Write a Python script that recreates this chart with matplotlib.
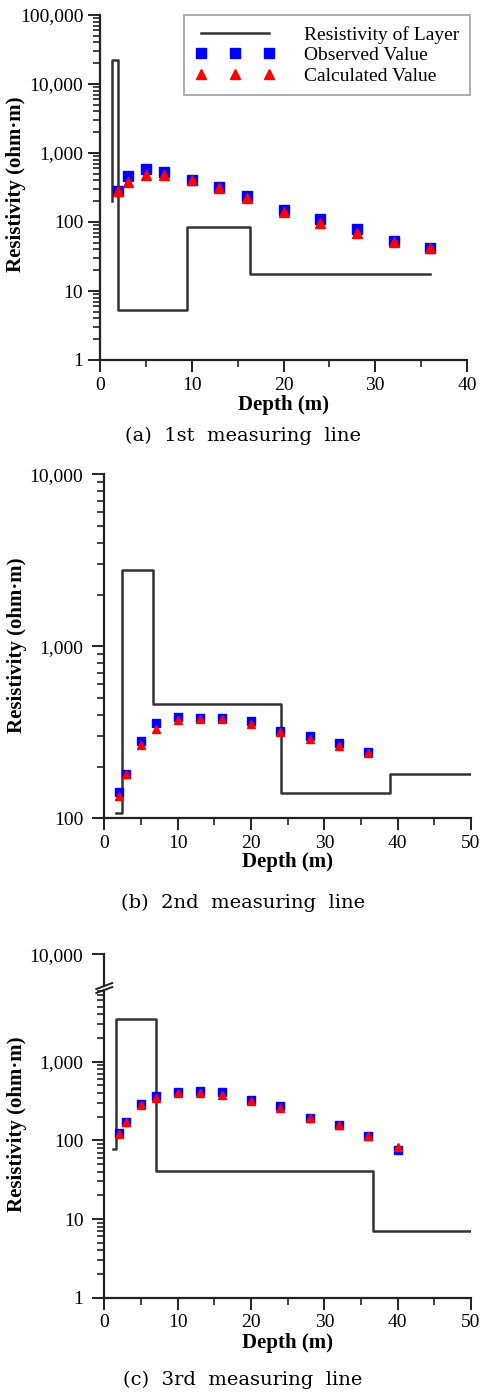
import matplotlib
matplotlib.use("Agg")
import matplotlib.pyplot as plt
import numpy as np
from matplotlib.ticker import FuncFormatter, LogLocator, MultipleLocator, NullLocator, FixedLocator

# ---------------- data ----------------
depth_obs1 = [2, 3, 5, 7, 10, 13, 16, 20, 24, 28, 32, 36]
obs1 = [282, 469, 588, 537, 407, 324, 238, 149, 109, 79, 53, 42]
calc1 = [282, 383, 480, 480, 400, 307, 220, 141, 98, 70, 52, 42]
layer_depth1 = [1.27, 1.27, 2.0, 9.45, 16.4, 36.0]
layer_rho1 = [200, 22000, 5.3, 85, 17.5, 17.5]

depth_obs2 = [2, 3, 5, 7, 10, 13, 16, 20, 24, 28, 32, 36]
obs2 = [143, 180, 281, 356, 386, 381, 383, 369, 322, 302, 275, 242]
calc2 = [135, 180, 267, 329, 373, 376, 378, 352, 317, 289, 263, 240]
layer_depth2 = [1.6, 2.37, 6.7, 24.05, 38.9, 50]
layer_rho2 = [108, 2760, 460, 140, 181, 181]

depth_obs3 = [2, 3, 5, 7, 10, 13, 16, 20, 24, 28, 32, 36, 40]
obs3 = [125, 172, 288, 368, 417, 425, 417, 327, 270, 195, 155, 113, 75]
calc3 = [119, 172, 280, 344, 400, 405, 378, 318, 258, 190, 155, 113, 83]
layer_depth3 = [1.23, 1.6, 7.05, 36.6, 50]
layer_rho3 = [78, 3440, 41, 7, 7]

captions = ["(a)  1st  measuring  line", "(b)  2nd  measuring  line", "(c)  3rd  measuring  line"]
legend_labels = ["Resistivity of Layer", "Observed Value", "Calculated Value"]

# ---------------- style ----------------
SERIF = ["Liberation Serif", "DejaVu Serif"]
plt.rcParams["font.family"] = SERIF
W, H = 486, 1392
fig = plt.figure(figsize=(W / 100, H / 100), dpi=100)
SPINE = "#222222"
LINE = "#333333"
TICKFS = 14
LABFS = 15


def fx(px):
    return px / W


def fy(py):
    return 1 - py / H


def comma(v, pos):
    return "{:,.0f}".format(v)


def style_axes(ax, xmax, ypad):
    for s in ["top", "right"]:
        ax.spines[s].set_visible(False)
    for s in ["left", "bottom"]:
        ax.spines[s].set_linewidth(1.6)
        ax.spines[s].set_color(SPINE)
    ax.set_yscale("log")
    ax.set_xlim(0, xmax)
    ax.xaxis.set_major_locator(MultipleLocator(10))
    ax.xaxis.set_minor_locator(MultipleLocator(5))
    ax.yaxis.set_major_formatter(FuncFormatter(comma))
    ax.yaxis.set_minor_locator(LogLocator(base=10, subs=np.arange(2, 10), numticks=20))
    ax.tick_params(which="major", direction="out", length=8.5, width=1.4, color=SPINE,
                   labelsize=TICKFS, pad=3.5)
    ax.tick_params(axis="y", which="major", pad=ypad)
    ax.tick_params(which="minor", direction="out", length=5, width=1.2, color=SPINE)
    ax.set_xlabel("Depth (m)", fontsize=LABFS, fontweight="bold")
    ax.set_ylabel("Resistivity (ohm\u00b7m)", fontsize=LABFS, fontweight="bold")


def draw(ax, ld, lr, d, o, c, ms):
    ax.step(ld, lr, where="post", color=LINE, lw=1.8, zorder=2,
            label=legend_labels[0])
    ax.plot(d, o, ls="none", marker="s", ms=ms, color="#0000ff", mec="#0000ff",
            zorder=3, label=legend_labels[1])
    ax.plot(d, c, ls="none", marker="^", ms=ms, color="#ff0000", mec="#ff0000",
            zorder=4, label=legend_labels[2])


def place_labels(ax, ax_left_px, ax_bottom_px, ax_w_px, ax_h_px, xlab_py, ylab_px, ylab_py):
    ax.xaxis.set_label_coords(0.5, -(xlab_py - ax_bottom_px) / ax_h_px)
    ax.xaxis.label.set_va("center")
    ax.yaxis.set_label_coords(-(ax_left_px - ylab_px) / ax_w_px,
                              (ax_bottom_px - ylab_py) / ax_h_px)
    ax.yaxis.label.set_va("center")


# ---------------- panel 1 ----------------
L1, R1, T1, B1 = 100, 467, 15, 360
ax1 = fig.add_axes([fx(L1), fy(B1), fx(R1 - L1), (B1 - T1) / H])
style_axes(ax1, 40, 3.5)
ax1.set_ylim(1, 100000)
draw(ax1, layer_depth1, layer_rho1, depth_obs1, obs1, calc1, 7.5)
place_labels(ax1, L1, B1, R1 - L1, B1 - T1, 405, 16, 184)
leg = ax1.legend(loc="upper right", bbox_to_anchor=(fx(470), fy(15)),
                 bbox_transform=fig.transFigure, borderaxespad=0, numpoints=3,
                 handlelength=4.1, handletextpad=1.5, labelspacing=0.15,
                 borderpad=0.55, fontsize=14, fancybox=False, frameon=True,
                 markerscale=1.0)
leg.get_frame().set_edgecolor("#999999")
leg.get_frame().set_linewidth(1.4)

# ---------------- panel 2 ----------------
L2, R2, T2, B2 = 104.3, 471, 474.3, 818.3
ax2 = fig.add_axes([fx(L2), fy(B2), fx(R2 - L2), (B2 - T2) / H])
style_axes(ax2, 50, 6.5)
ax2.set_ylim(100, 10000)
draw(ax2, layer_depth2, layer_rho2, depth_obs2, obs2, calc2, 6)
place_labels(ax2, L2, B2, R2 - L2, B2 - T2, 862, 17, 645)

# ---------------- panel 3 (broken axis) ----------------
L3, R3, TB, B3 = 104.3, 471, 990, 1297.7
TU, BU = 954.3, 986
ax3 = fig.add_axes([fx(L3), fy(B3), fx(R3 - L3), (B3 - TB) / H])
style_axes(ax3, 50, 6.5)
dec = (B3 - 1061.7) / 3.0
ax3.set_ylim(1, 10 ** ((B3 - TB) / dec))
draw(ax3, layer_depth3, layer_rho3, depth_obs3, obs3, calc3, 5.5)
place_labels(ax3, L3, B3, R3 - L3, B3 - TB, 1343, 17, 1124)

ax3u = fig.add_axes([fx(L3), fy(BU), fx(R3 - L3), (BU - TU) / H], sharex=ax3)
for s in ["top", "right", "bottom"]:
    ax3u.spines[s].set_visible(False)
ax3u.spines["left"].set_linewidth(1.6)
ax3u.spines["left"].set_color(SPINE)
ax3u.set_yscale("log")
ax3u.set_ylim(10 ** (4 - (BU - TU) / dec), 10000)
ax3u.yaxis.set_major_locator(FixedLocator([10000]))
ax3u.yaxis.set_minor_locator(NullLocator())
ax3u.yaxis.set_major_formatter(FuncFormatter(comma))
ax3u.tick_params(axis="y", which="major", direction="out", length=8.5, width=1.4,
                 color=SPINE, labelsize=TICKFS, pad=6.5)
ax3u.tick_params(axis="x", which="both", bottom=False, labelbottom=False)
ax3u.patch.set_alpha(0)

# break marks
for yy in (BU, TB):
    fig.add_artist(plt.Line2D([fx(L3 - 8), fx(L3 + 8)], [fy(yy + 3), fy(yy - 3)],
                              color=SPINE, lw=1.4, transform=fig.transFigure))

# ---------------- captions ----------------
for txt, yy in zip(captions, [436, 903, 1380]):
    fig.text(0.5, fy(yy), txt, ha="center", va="center", fontsize=14,
             family=["DejaVu Serif"])

fig.savefig("out.png", dpi=100)
